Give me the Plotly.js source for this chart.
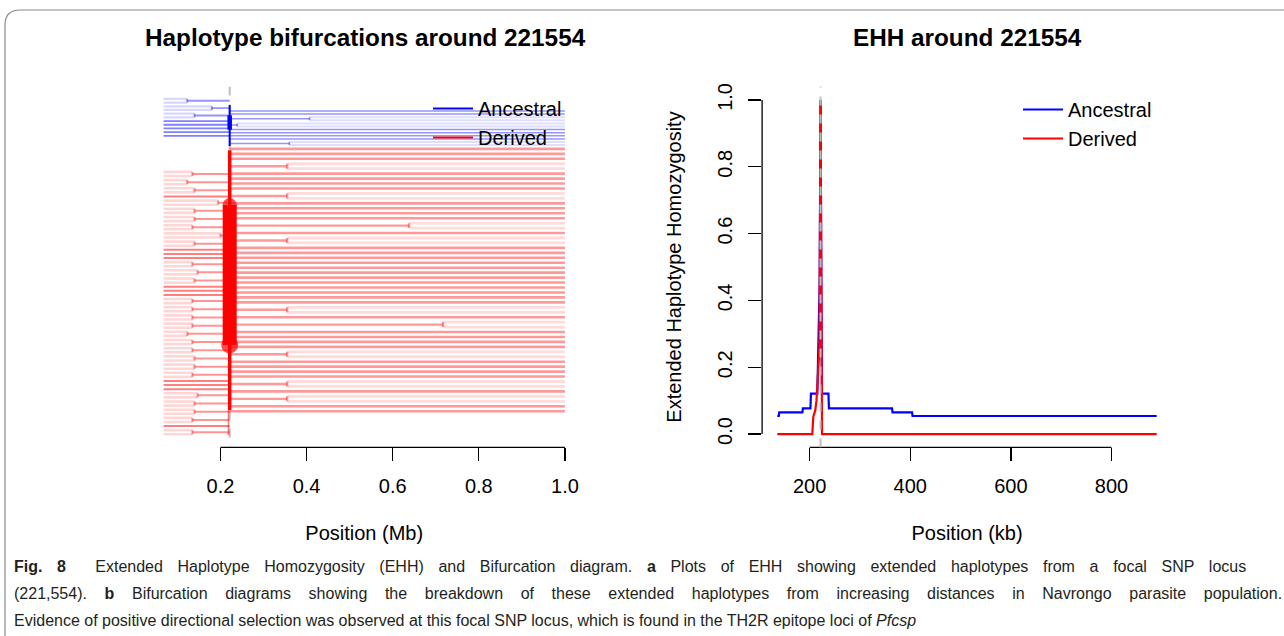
<!DOCTYPE html>
<html><head><meta charset="utf-8">
<script src="https://cdn.plot.ly/plotly-3.0.1.min.js"></script>
<style>html,body{margin:0;padding:0;background:#fff}#chart{width:1284px;height:636px}</style>
</head><body><div id="chart"></div>
<script>
const W = 1284, H = 636;
const FONT = 'Liberation Sans, Arial, Helvetica, sans-serif';
const CAPFONT = 'Liberation Sans, Arial, sans-serif';

// ---------------- EHH panel data (position in kb, EHH) ----------------
const focalKb = 221.554;
const ehhPosAncestral = [135.6, 138.6, 139.6, 185.5, 186.5, 201.5, 202.5, 215.2, 219.8, 221.554, 223.2, 224.5, 237.3, 238.3, 363.7, 364.7, 403.5, 404.5, 889.9];
const ehhAncestral    = [0.054, 0.054, 0.065, 0.065, 0.077, 0.077, 0.121, 0.121, 0.45, 1.0, 0.45, 0.121, 0.121, 0.077, 0.077, 0.065, 0.065, 0.054, 0.054];
const ehhPosDerived   = [135.6, 205.2, 207.2, 211.0, 213.5, 216.5, 219.5, 221.554, 223.0, 224.5, 889.9];
const ehhDerived      = [0, 0, 0.052, 0.070, 0.100, 0.180, 0.260, 1.0, 0.20, 0, 0];
const ehhXTicks = [200, 400, 600, 800];
const ehhYTicks = [0, 0.2, 0.4, 0.6, 0.8, 1.0];
const ehhYTickText = ['0.0', '0.2', '0.4', '0.6', '0.8', '1.0'];

// ---------------- Bifurcation panel data (positions in Mb) ----------------
const focalMb = 0.221554;
const leftEndMb = 0.068;
const rightEndMb = 1.0;
const bifXTicks = [0.2, 0.4, 0.6, 0.8, 1.0];
const bifXTickText = ['0.2', '0.4', '0.6', '0.8', '1.0'];
// split position of each leaf (paired leaves share a value); null = leaf runs to the core
const leftAncestralSplits = [0.123, 0.123, 0.180, 0.180, 0.140, 0.140, null, null, null, null, null];
const leftDerivedSplits = [
  0.135, 0.135, 0.123, 0.123, 0.140, 0.140, null, 0.195, 0.195, 0.140, 0.140, 0.140, 0.140,
  0.135, 0.135, 0.200, 0.200, 0.140, 0.140, null, null, null, 0.135, 0.135, 0.147, 0.147,
  0.140, 0.140, null, null, null, 0.135, 0.135, 0.135, 0.135, 0.135, 0.135, 0.135, 0.135,
  0.1235, 0.1235, 0.135, 0.135, 0.135, 0.135, 0.140, 0.140, 0.140, 0.140, 0.135, 0.135,
  null, null, null, 0.147, 0.147, 0.140, 0.140, 0.140, 0.140, 0.135, 0.135, null, 0.135, 0.135
];
const rightAncestralSplits = [null, null, 0.407, 0.407, 0.239, 0.239, null, null, null, null, 0.360, 0.360];
const rightDerivedSplits = [
  null, null, null, 0.355, 0.355, null, null, null, null, 0.355, 0.355, null, null, null, null,
  0.638, 0.638, null, 0.355, 0.355, null, null, null, null, null, null, null, null, null, null,
  null, null, 0.355, 0.355, null, 0.717, 0.717, null, null, null, null, 0.355, 0.355, null,
  null, null, null, 0.355, 0.355, null, 0.355, 0.355, null, null
];
// core (haplotypes sharing the focal allele) extents, in row units
const coreAncestral = [4.5, 14.5];
const coreAncestralThick = [7.0, 10.5];
const coreDerived = [15.5, 78.9];
const coreDerivedThick = [28.9, 63.0];
const coreDerivedTail = [78.9, 85.0];

// vertical layout of each tree (row units)
const rowLayout = {
  leftAnc: {top: 3.0, step: 0.90},
  leftDer: {top: 20.8, step: 1.0},
  rightAnc: {top: 5.95, step: 0.756},
  rightDer: {top: 15.2, step: 1.207}
};

function seg() { return {x: [], y: []}; }
function add(s, x0, y0, x1, y1) { s.x.push(x0, x1, null); s.y.push(y0, y1, null); }

function buildLeft(splits, lay, light, merged, direct) {
  let i = 0;
  while (i < splits.length) {
    const s = splits[i], y = lay.top + i * lay.step;
    if (s === null) { add(direct, leftEndMb, y, focalMb, y); i++; }
    else if (i + 1 < splits.length && splits[i + 1] === s) {
      const y2 = lay.top + (i + 1) * lay.step, ym = (y + y2) / 2;
      add(light, leftEndMb, y, s, y); add(light, leftEndMb, y2, s, y2);
      add(merged, s, y, s, y2); add(merged, s, ym, focalMb, ym); i += 2;
    } else { add(light, leftEndMb, y, s, y); add(merged, s, y, focalMb, y); i++; }
  }
}
function buildRight(splits, lay, light, merged, direct) {
  let i = 0;
  while (i < splits.length) {
    const s = splits[i], y = lay.top + i * lay.step;
    if (s === null) { add(direct, focalMb, y, rightEndMb, y); i++; }
    else if (i + 1 < splits.length && splits[i + 1] === s) {
      const y2 = lay.top + (i + 1) * lay.step, ym = (y + y2) / 2;
      add(light, s, y, rightEndMb, y); add(light, s, y2, rightEndMb, y2);
      add(merged, s, y, s, y2); add(merged, focalMb, ym, s, ym); i += 2;
    } else { add(light, s, y, rightEndMb, y); add(merged, focalMb, y, s, y); i++; }
  }
}

const groups = {
  blue: {light: seg(), merged: seg(), direct: seg(), rlight: seg(), rmerged: seg(), rdirect: seg()},
  red: {light: seg(), merged: seg(), direct: seg(), rlight: seg(), rmerged: seg(), rdirect: seg()}
};
buildLeft(leftAncestralSplits, rowLayout.leftAnc, groups.blue.light, groups.blue.merged, groups.blue.direct);
buildLeft(leftDerivedSplits, rowLayout.leftDer, groups.red.light, groups.red.merged, groups.red.direct);
buildRight(rightAncestralSplits, rowLayout.rightAnc, groups.blue.rlight, groups.blue.rmerged, groups.blue.rdirect);
buildRight(rightDerivedSplits, rowLayout.rightDer, groups.red.rlight, groups.red.rmerged, groups.red.rdirect);

const rgb = {blue: '0,0,255', red: '255,0,0'};
const styles = {
  blue: {light: [0.16, 2.2], rlight: [0.13, 2.0], merged: [0.42, 1.8], rmerged: [0.42, 1.6], direct: [0.5, 1.8], rdirect: [0.42, 1.5]},
  red:  {light: [0.16, 2.6], rlight: [0.14, 2.8], merged: [0.42, 2.0], rmerged: [0.40, 2.4], direct: [0.5, 2.0], rdirect: [0.40, 2.6]}
};
const traces = [];
function lineTrace(s, color, alpha, width) {
  traces.push({x: s.x, y: s.y, type: 'scatter', mode: 'lines', xaxis: 'x', yaxis: 'y',
    line: {color: 'rgba(' + rgb[color] + ',' + alpha + ')', width: width}, hoverinfo: 'skip', showlegend: false});
}
['blue', 'red'].forEach(c => {
  ['light', 'rlight', 'merged', 'rmerged', 'direct', 'rdirect'].forEach(k => {
    lineTrace(groups[c][k], c, styles[c][k][0], styles[c][k][1]);
  });
});
function coreTrace(range, color, width, xpos) {
  traces.push({x: [xpos, xpos], y: range, type: 'scatter', mode: 'lines', xaxis: 'x', yaxis: 'y',
    line: {color: color, width: width}, hoverinfo: 'skip', showlegend: false});
}
coreTrace(coreAncestral, '#0000ff', 2, focalMb);
coreTrace(coreAncestralThick, '#0000ff', 4.5, focalMb);
coreTrace(coreDerived, '#ff0000', 3.5, focalMb);
coreTrace(coreDerivedThick, '#ff0000', 14, focalMb);
coreTrace(coreDerivedTail, 'rgba(255,0,0,0.5)', 1.5, focalMb - 0.003);
traces.push({x: [focalMb, focalMb], y: coreDerivedThick, type: 'scatter', mode: 'markers', xaxis: 'x', yaxis: 'y',
  marker: {color: '#ff0000', size: [14, 17], line: {width: 0}}, hoverinfo: 'skip', showlegend: false});

// legend entries of the bifurcation panel
traces.push({x: [null], y: [null], type: 'scatter', mode: 'lines', xaxis: 'x', yaxis: 'y', name: 'Ancestral',
  line: {color: '#0000ff', width: 2}, legend: 'legend'});
traces.push({x: [null], y: [null], type: 'scatter', mode: 'lines', xaxis: 'x', yaxis: 'y', name: 'Derived',
  line: {color: '#ff0000', width: 2}, legend: 'legend'});

// EHH lines
traces.push({x: ehhPosAncestral, y: ehhAncestral, type: 'scatter', mode: 'lines', xaxis: 'x2', yaxis: 'y2',
  name: 'Ancestral', line: {color: '#0000ff', width: 2.2}, legend: 'legend2'});
traces.push({x: ehhPosDerived, y: ehhDerived, type: 'scatter', mode: 'lines', xaxis: 'x2', yaxis: 'y2',
  name: 'Derived', line: {color: '#ff0000', width: 2.2}, legend: 'legend2'});

// ---------------- layout ----------------
const px = v => v / W, py = v => 1 - v / H;
const yDomain = [py(447.4), py(86.6)];
const tickFont = {family: FONT, size: 20, color: '#000'};
const axisCommon = {showgrid: false, zeroline: false, showline: false, ticks: 'outside', ticklen: 13,
  tickwidth: 1.3, tickcolor: '#000', tickfont: tickFont, automargin: false, fixedrange: true};
const legendCommon = {xanchor: 'left', yanchor: 'top', bgcolor: 'rgba(0,0,0,0)', borderwidth: 0, itemwidth: 40,
  font: {family: FONT, size: 20, color: '#000'}};

const captionLines = [
  '<b>Fig. 8</b>  Extended Haplotype Homozygosity (EHH) and Bifurcation diagram. <b>a</b> Plots of EHH showing extended haplotypes from a focal SNP locus',
  '(221,554). <b>b</b> Bifurcation diagrams showing the breakdown of these extended haplotypes from increasing distances in Navrongo parasite population.',
  'Evidence of positive directional selection was observed at this focal SNP locus, which is found in the TH2R epitope loci of <i>Pfcsp</i>'
];
const captionY = [566, 593, 620];
const captionLeft = 12;
const captionRightEdge = [1234, 1280, null];   // justified lines end here; the last line is ragged

const layout = {
  width: W, height: H, margin: {l: 0, r: 0, t: 0, b: 0, pad: 0},
  paper_bgcolor: '#fff', plot_bgcolor: 'rgba(0,0,0,0)', showlegend: true,
  xaxis: Object.assign({}, axisCommon, {domain: [px(147.5), px(581)], range: [0.0307, 1.0373], anchor: 'y',
    tickmode: 'array', tickvals: bifXTicks, ticktext: bifXTickText, ticklabelstandoff: 8,
    title: {text: 'Position (Mb)', font: {family: FONT, size: 20, color: '#000'}, standoff: 29}}),
  yaxis: {domain: yDomain, range: [88, 0], visible: false, anchor: 'x', fixedrange: true},
  xaxis2: Object.assign({}, axisCommon, {domain: [px(762.1), px(1171.9)], range: [105.4, 920.1], anchor: 'y2',
    tickmode: 'array', tickvals: ehhXTicks, ticklabelstandoff: 8,
    title: {text: 'Position (kb)', font: {family: FONT, size: 20, color: '#000'}, standoff: 29}}),
  yaxis2: Object.assign({}, axisCommon, {domain: yDomain, range: [-0.04, 1.04], anchor: 'x2',
    tickmode: 'array', tickvals: ehhYTicks, ticktext: ehhYTickText, tickangle: -90, ticklabelstandoff: 8,
    title: {text: 'Extended Haplotype Homozygosity', font: {family: FONT, size: 20, color: '#000'}, standoff: 27}}),
  legend: Object.assign({}, legendCommon, {x: px(428), y: py(89)}),
  legend2: Object.assign({}, legendCommon, {x: px(1018), y: py(90)}),
  shapes: [
    {type: 'line', xref: 'x', yref: 'paper', x0: 0.2, x1: 1.0, y0: yDomain[0], y1: yDomain[0], line: {color: '#000', width: 1.3}},
    {type: 'line', xref: 'x2', yref: 'paper', x0: 200, x1: 800, y0: yDomain[0], y1: yDomain[0], line: {color: '#000', width: 1.3}},
    {type: 'line', xref: 'paper', yref: 'y2', x0: px(762.1), x1: px(762.1), y0: 0, y1: 1, line: {color: '#000', width: 1.3}},
    {type: 'line', xref: 'x', yref: 'y', x0: focalMb, x1: focalMb, y0: 0, y1: 88, layer: 'below', line: {color: '#bebebe', width: 2, dash: 'dash'}},
    {type: 'line', xref: 'x2', yref: 'y2', x0: focalKb, x1: focalKb, y0: -0.04, y1: 1.04, layer: 'above', line: {color: '#bebebe', width: 2, dash: 'dash'}},
    {type: 'path', xref: 'paper', yref: 'paper', path: 'M 1.01 ' + py(10) + ' L ' + px(20) + ' ' + py(10) + ' Q ' + px(5) + ' ' + py(10) + ' ' + px(5) + ' ' + py(25) + ' L ' + px(5) + ' -0.01',
      line: {color: '#8a8a8a', width: 1.2}}
  ],
  annotations: [
    {text: '<b>Haplotype bifurcations around 221554</b>', x: px(365), y: py(38), xref: 'paper', yref: 'paper', showarrow: false,
      xanchor: 'center', yanchor: 'middle', font: {family: FONT, size: 24.3, color: '#000'}},
    {text: '<b>EHH around 221554</b>', x: px(967), y: py(38), xref: 'paper', yref: 'paper', showarrow: false,
      xanchor: 'center', yanchor: 'middle', font: {family: FONT, size: 24.3, color: '#000'}}
  ].concat(captionLines.map((t, i) => ({text: t, x: px(captionLeft), y: py(captionY[i]), xref: 'paper', yref: 'paper', showarrow: false,
      xanchor: 'left', yanchor: 'middle', font: {family: CAPFONT, size: 16, color: '#231f20'}})))
};

Plotly.newPlot('chart', traces, layout, {displayModeBar: false, staticPlot: true}).then(gd => {
  // justify the first caption lines (journal layout): widen word spacing, keep the left edge fixed
  captionLines.forEach((t, i) => {
    if (!captionRightEdge[i]) return;
    const el = gd.querySelector('g.annotation[data-index="' + (i + 2) + '"] text.annotation-text');
    if (!el) return;
    const b0 = el.getBBox();
    const gaps = (el.textContent.trim().match(/\s+/g) || []).length;
    const extra = (captionRightEdge[i] - captionLeft - b0.width) / Math.max(gaps, 1);
    if (extra <= 0) return;
    el.style.wordSpacing = extra.toFixed(2) + 'px';
    const b1 = el.getBBox();
    el.setAttribute('x', (parseFloat(el.getAttribute('x')) + (b0.x - b1.x)).toFixed(2));
  });
});
</script></body></html>
